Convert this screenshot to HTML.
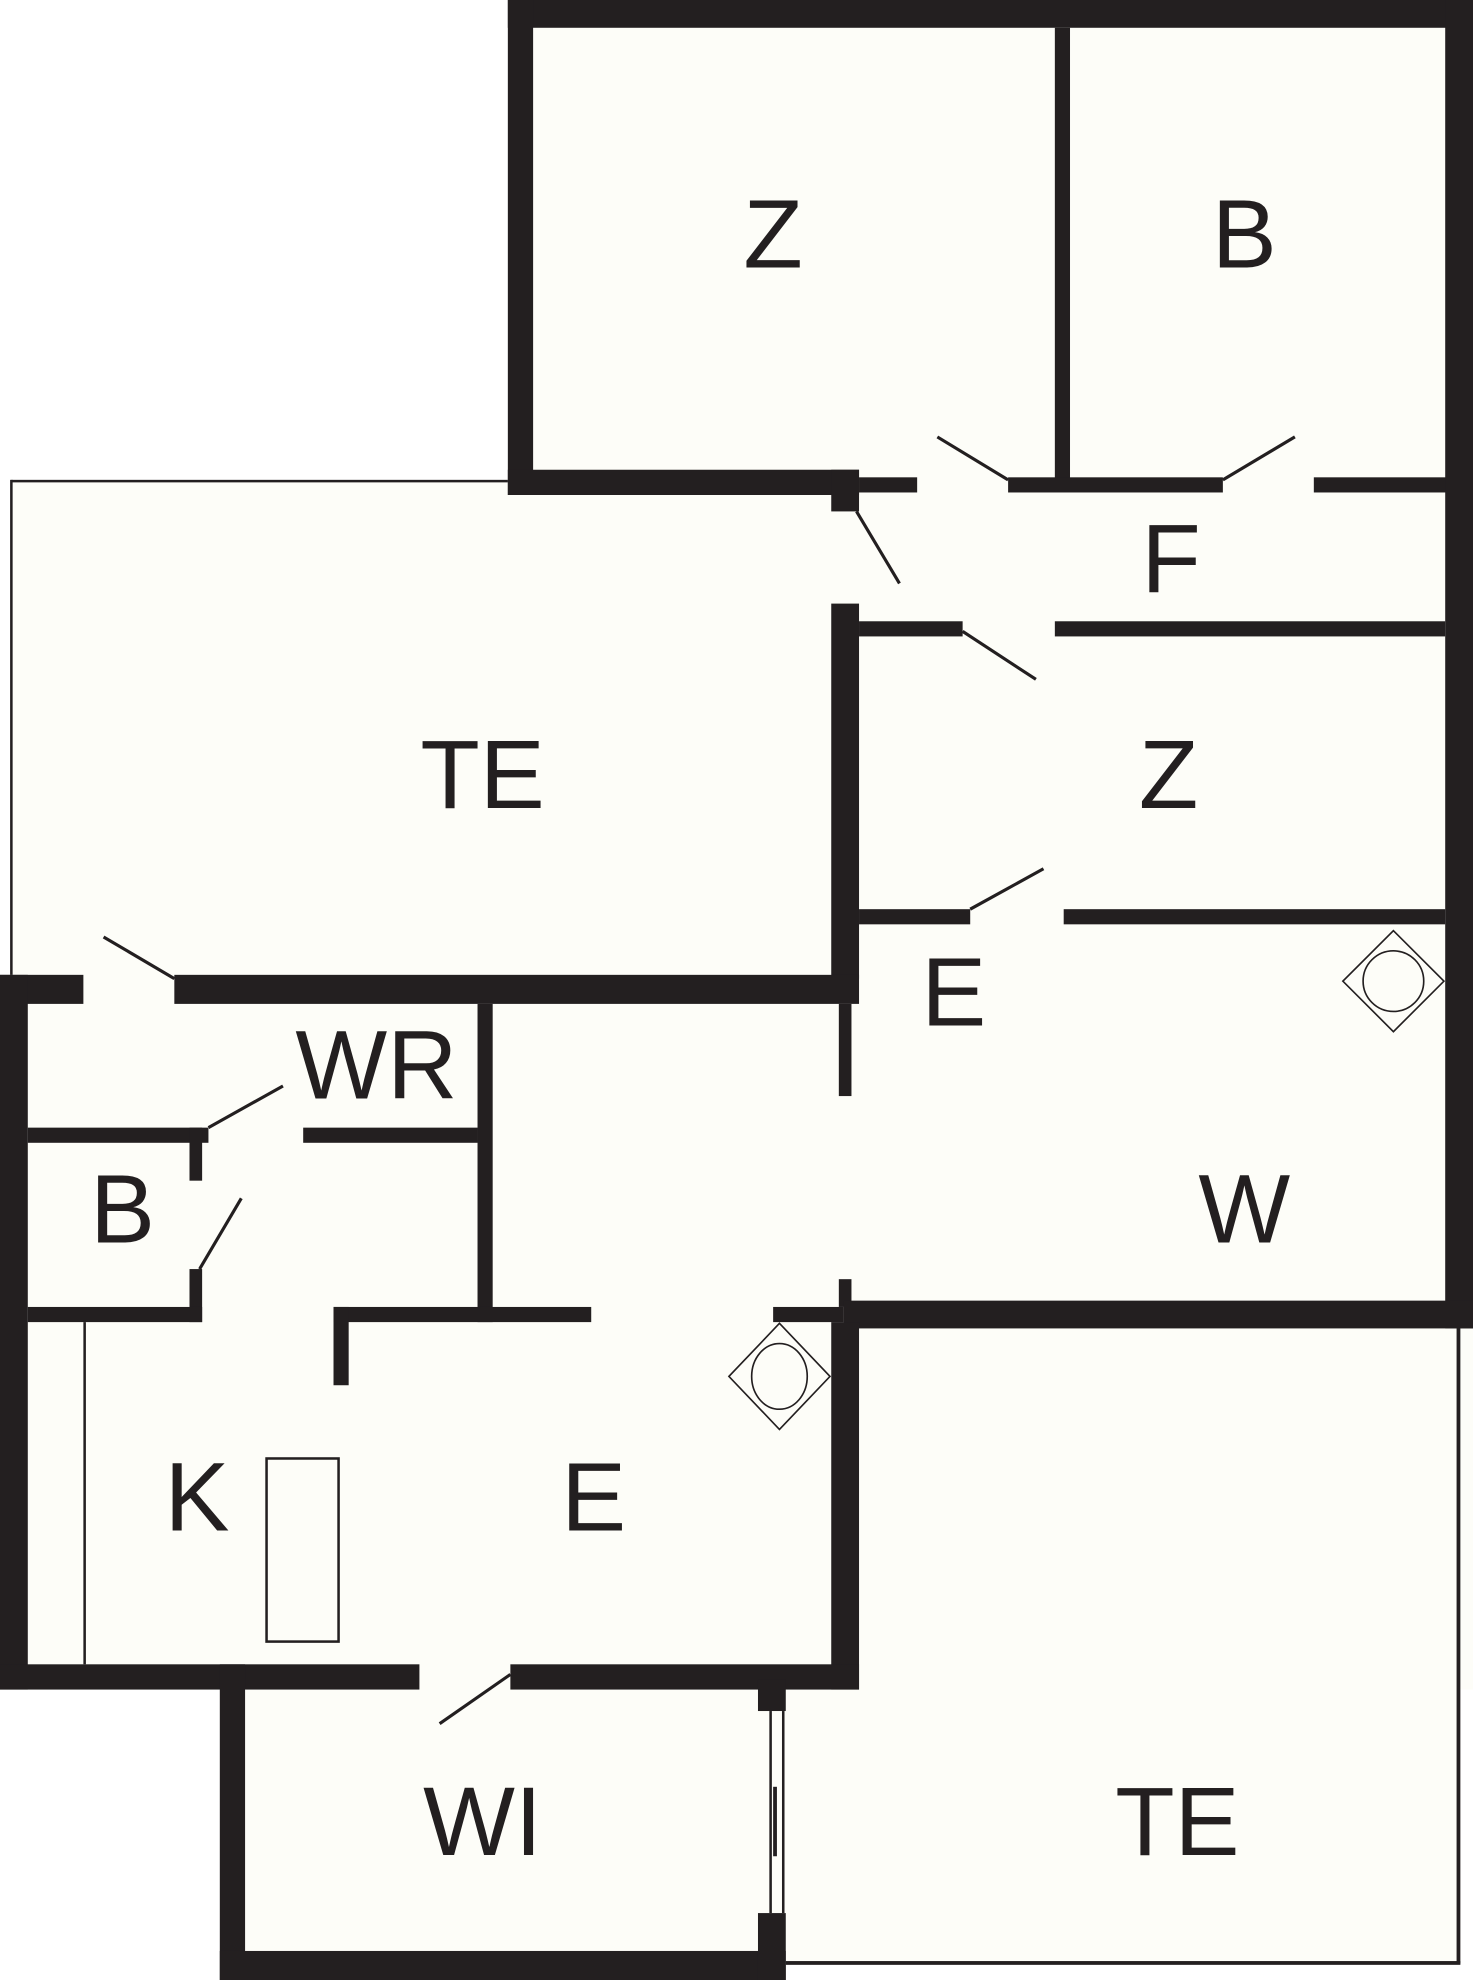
<!DOCTYPE html>
<html><head><meta charset="utf-8"><style>
html,body{margin:0;padding:0;background:#fff;}
svg{display:block;}
text{font-family:"Liberation Sans",sans-serif;fill:#231f20;font-size:77px;text-anchor:middle;}
</style></head><body>
<svg width="1473" height="1980" viewBox="0 0 1166 1568" preserveAspectRatio="none" xmlns="http://www.w3.org/2000/svg">
<g fill="#fdfdf8">
<rect x="402" y="0" width="764" height="392"/>
<rect x="9" y="381" width="671" height="414"/>
<rect x="0" y="772" width="1166" height="566"/>
<rect x="658" y="372" width="508" height="680"/>
<rect x="600" y="1030" width="556" height="526"/>
<rect x="174" y="1318" width="448" height="250"/>
</g>
<g fill="#231f20">
<rect x="402" y="0" width="764" height="22"/>
<rect x="402" y="0" width="20" height="392"/>
<rect x="835" y="22" width="12" height="358"/>
<rect x="402" y="372" width="278" height="20"/>
<rect x="680" y="378" width="46" height="12"/>
<rect x="798" y="378" width="170" height="12"/>
<rect x="1040" y="378" width="106" height="12"/>
<rect x="1144" y="0" width="22" height="1052"/>
<rect x="658" y="372" width="22" height="33"/>
<rect x="658" y="478" width="22" height="297"/>
<rect x="680" y="492" width="82" height="12"/>
<rect x="835" y="492" width="309" height="12"/>
<rect x="680" y="720" width="88" height="12"/>
<rect x="842" y="720" width="302" height="12"/>
<rect x="0" y="772" width="66" height="23"/>
<rect x="138" y="772" width="542" height="23"/>
<rect x="0" y="772" width="22" height="566"/>
<rect x="664" y="795" width="10" height="73"/>
<rect x="378" y="795" width="12" height="252"/>
<rect x="22" y="893" width="143" height="12"/>
<rect x="240" y="893" width="138" height="12"/>
<rect x="150" y="893" width="10" height="42"/>
<rect x="150" y="1005" width="10" height="42"/>
<rect x="22" y="1035" width="138" height="12"/>
<rect x="264" y="1035" width="204" height="12"/>
<rect x="264" y="1035" width="12" height="62"/>
<rect x="612" y="1035" width="56" height="12"/>
<rect x="664" y="1013" width="10" height="22"/>
<rect x="668" y="1030" width="498" height="22"/>
<rect x="658" y="1047" width="22" height="291"/>
<rect x="0" y="1318" width="332" height="20"/>
<rect x="404" y="1318" width="276" height="20"/>
<rect x="174" y="1318" width="20" height="250"/>
<rect x="174" y="1545" width="448" height="23"/>
<rect x="600" y="1330" width="22" height="25"/>
<rect x="600" y="1515" width="22" height="53"/>
<rect x="9" y="380" width="393" height="2"/>
<rect x="8" y="380" width="2" height="392"/>
<rect x="66" y="1047" width="2" height="271"/>
<rect x="1153" y="1052" width="3" height="503"/>
<rect x="622" y="1553" width="534" height="3"/>
<rect x="609" y="1355" width="2" height="160"/>
<rect x="619" y="1355" width="2" height="160"/>
<rect x="612" y="1415" width="3" height="55"/>
</g>
<g stroke="#231f20" stroke-width="2.5" fill="none">
<line x1="742" y1="346" x2="798" y2="380"/>
<line x1="968" y1="380" x2="1025" y2="346"/>
<line x1="678" y1="405" x2="712" y2="462"/>
<line x1="762" y1="500" x2="820" y2="538"/>
<line x1="768" y1="720" x2="826" y2="688"/>
<line x1="82" y1="742" x2="138" y2="775"/>
<line x1="165" y1="893" x2="224" y2="860"/>
<line x1="158" y1="1005" x2="191" y2="949"/>
<line x1="404" y1="1326" x2="348" y2="1365"/>
</g>
<g stroke="#231f20" stroke-width="1.3" fill="none">
<polygon points="1103,737 1143,777 1103,817 1063,777"/>
<circle cx="1103" cy="777" r="24"/>
<polygon points="617,1048 657,1090 617,1132 577,1090"/>
<ellipse cx="617" cy="1090" rx="22" ry="26"/>
<rect x="211" y="1155" width="57" height="145" stroke-width="2"/>
</g>
<text x="612" y="212">Z</text>
<text x="985" y="212">B</text>
<text x="927" y="469">F</text>
<text x="382" y="640">TE</text>
<text x="925" y="640">Z</text>
<text x="755" y="812">E</text>
<text x="298" y="870">WR</text>
<text x="97" y="984">B</text>
<text x="985" y="984">W</text>
<text x="156" y="1212">K</text>
<text x="470" y="1212">E</text>
<text x="382" y="1469">WI</text>
<text x="932" y="1469">TE</text>
</svg>
</body></html>
